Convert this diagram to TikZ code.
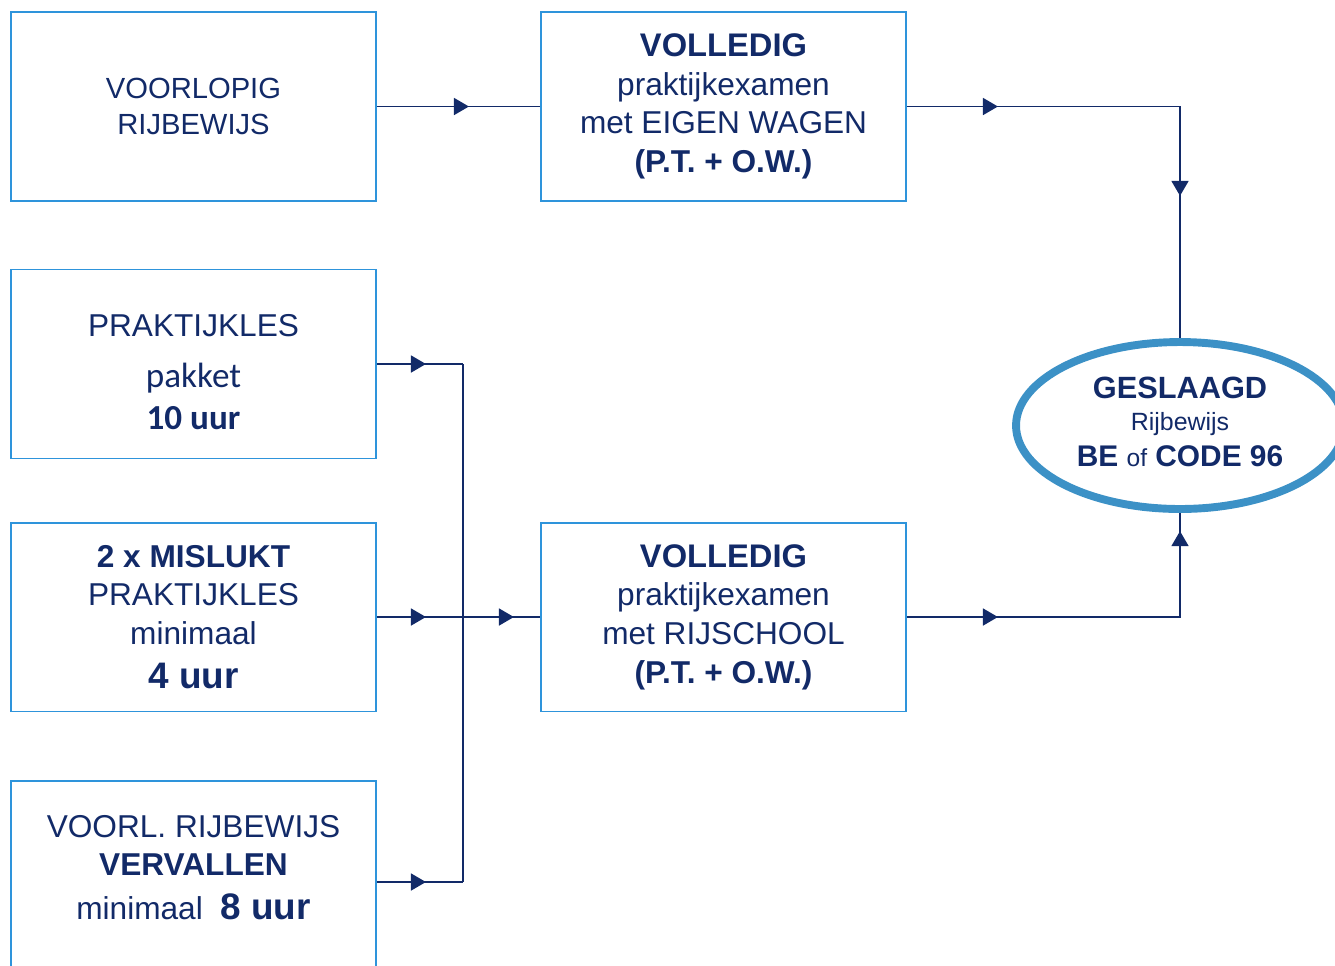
\documentclass[tikz,border=0pt]{standalone}
\usepackage{fontspec}
\setmainfont{Liberation Sans}
\newfontfamily\calfont{Carlito}
\usetikzlibrary{shapes.geometric,arrows.meta,decorations.markings}
\definecolor{boxblue}{RGB}{46,148,219}
\definecolor{navy}{RGB}{18,42,104}
\definecolor{ringblue}{RGB}{60,145,198}
\begin{document}
\begin{tikzpicture}[x=0.02cm,y=-0.02cm,
  stepbox/.style={draw=boxblue,line width=1.1pt,minimum width=7.3cm,minimum height=3.78cm,
    inner sep=0pt,align=center,text=navy,font=\fontsize{18}{22}\selectfont},
  link/.style={draw=navy,line width=1pt},
  tip at/.style={postaction={decorate,decoration={markings,
    mark=at position #1 with {\arrow[navy]{Triangle[length=0.3cm,width=0.34cm]}}}}}]
\useasboundingbox (0,0) rectangle (1335,965);

\node[stepbox,font=\fontsize{16.6}{20.4}\selectfont] (voorlopig) at (193.5,106.5) {VOORLOPIG\\RIJBEWIJS};
\node[stepbox] (eigen) at (723.5,106.5) {{\fontsize{18.6}{22}\selectfont\bfseries VOLLEDIG}\\praktijkexamen\\met EIGEN WAGEN\\\textbf{(P.T. + O.W.)}};
\node[stepbox] (praktijkles) at (193.5,364) {\rule{0pt}{0.78cm}PRAKTIJKLES\\[7pt]{\calfont\fontsize{20}{24}\selectfont pakket}\\[2pt]{\calfont\bfseries\fontsize{20}{24}\selectfont 10 uur}};
\node[stepbox] (mislukt) at (193.5,617) {\textbf{2 x MISLUKT}\\PRAKTIJKLES\\minimaal\\[3pt]{\fontsize{21}{24}\selectfont\bfseries 4 uur}};
\node[stepbox] (vervallen) at (193.5,875) {VOORL. RIJBEWIJS\\\textbf{VERVALLEN}\\[3pt]minimaal\ \ {\fontsize{21}{24}\selectfont\bfseries 8 uur}\rule[-0.3cm]{0pt}{0pt}};
\node[stepbox] (rijschool) at (723.5,617) {{\fontsize{18.6}{22}\selectfont\bfseries VOLLEDIG}\\praktijkexamen\\met RIJSCHOOL\\\textbf{(P.T. + O.W.)}};
\node[ellipse,draw=ringblue,line width=4.5pt,minimum width=6.56cm,minimum height=3.34cm,inner sep=0pt,
  align=center,text=navy,font=\fontsize{17}{20}\selectfont] (geslaagd) at (1180,425.5)
  {{\fontsize{17.5}{20}\selectfont\bfseries GESLAAGD}\\[-1.5pt]{\fontsize{14.2}{20}\selectfont Rijbewijs}\\[0pt]{\bfseries BE {\mdseries\fontsize{14}{20}\selectfont of} CODE 96}\rule[-0.16cm]{0pt}{0pt}};

\coordinate (jC) at (463,364);
\coordinate (jE) at (463,882);

\draw[link,tip at=1.84cm] (voorlopig) -- (eigen);
\draw[link,tip at=1.82cm,tip at=7.25cm] (eigen) -| (geslaagd);
\draw[link,tip at=0.98cm] (praktijkles) -- (jC);
\draw[link,tip at=0.98cm,tip at=2.74cm] (mislukt) -- (rijschool);
\draw[link,tip at=0.98cm] (jE -| vervallen.east) -- (jE);
\draw[link] (jC) -- (jE);
\draw[link,tip at=1.82cm,tip at=7.18cm] (rijschool) -| (geslaagd);
\end{tikzpicture}
\end{document}
